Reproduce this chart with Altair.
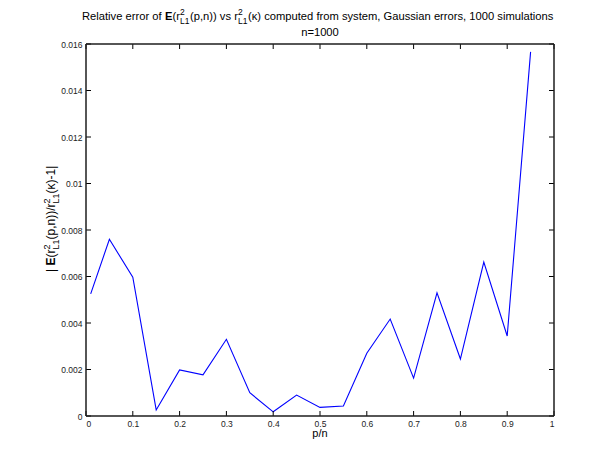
import altair as alt
import pandas as pd

# ---- data ----
p_over_n = [0.01, 0.05, 0.10, 0.15, 0.20, 0.25, 0.30, 0.35, 0.40, 0.45,
            0.50, 0.55, 0.60, 0.65, 0.70, 0.75, 0.80, 0.85, 0.90, 0.95]
rel_err = [0.00525, 0.00760, 0.00597, 0.00026, 0.00198, 0.00177, 0.00330, 0.00100,
           0.00018, 0.00090, 0.00037, 0.00043, 0.00270, 0.00417, 0.00163, 0.00530,
           0.00245, 0.00662, 0.00344, 0.01566]
x_ticks = [0, 0.1, 0.2, 0.3, 0.4, 0.5, 0.6, 0.7, 0.8, 0.9, 1.0]
y_ticks = [0, 0.002, 0.004, 0.006, 0.008, 0.010, 0.012, 0.014, 0.016]

W, H = 468, 372
FONT = "Liberation Sans"
TICK = 5

df = pd.DataFrame({"pn": p_over_n, "err": rel_err})
xt = pd.DataFrame({"pn": x_ticks})
yt = pd.DataFrame({"err": y_ticks})

xs = alt.Scale(domain=[0, 1], nice=False, zero=False)
ys = alt.Scale(domain=[0, 0.016], nice=False, zero=False)
xaxis = alt.Axis(values=x_ticks, format="~g", title=None, ticks=False, tickSize=0,
                 domain=False, grid=False, labelFontSize=8.5, labelPadding=3,
                 labelColor="#222", labelFont=FONT)
yaxis = alt.Axis(values=y_ticks, format="~g", title=None, ticks=False, tickSize=0,
                 domain=False, grid=False, labelFontSize=8.5, labelPadding=4,
                 labelColor="#222", labelFont=FONT)

line = alt.Chart(df).mark_line(color="#0000ff", strokeWidth=1.1).encode(
    x=alt.X("pn:Q", scale=xs, axis=xaxis),
    y=alt.Y("err:Q", scale=ys, axis=yaxis),
)

TS = dict(color="black", strokeWidth=1, strokeOpacity=1)
bottom = alt.Chart(xt).mark_rule(**TS).encode(
    x=alt.X("pn:Q", scale=xs, axis=xaxis), y=alt.value(H), y2=alt.value(H - TICK))
top = alt.Chart(xt).mark_rule(**TS).encode(
    x=alt.X("pn:Q", scale=xs, axis=xaxis), y=alt.value(0), y2=alt.value(TICK))
left = alt.Chart(yt).mark_rule(**TS).encode(
    y=alt.Y("err:Q", scale=ys, axis=yaxis), x=alt.value(0), x2=alt.value(TICK))
right = alt.Chart(yt).mark_rule(**TS).encode(
    y=alt.Y("err:Q", scale=ys, axis=yaxis), x=alt.value(W - TICK), x2=alt.value(W))

one = pd.DataFrame({"a": [0]})

FS = dict(color="rgb(30,30,30)", strokeWidth=1.5, strokeOpacity=1)
frame = [
    alt.Chart(one).mark_rule(**FS).encode(
        x=alt.value(0), x2=alt.value(W), y=alt.value(0)),
    alt.Chart(one).mark_rule(**FS).encode(
        x=alt.value(0), x2=alt.value(W), y=alt.value(H)),
    alt.Chart(one).mark_rule(**FS).encode(
        x=alt.value(0), y=alt.value(0), y2=alt.value(H)),
    alt.Chart(one).mark_rule(**FS).encode(
        x=alt.value(W), y=alt.value(0), y2=alt.value(H)),
]


def txt(s, x, y, size=11.2, weight="normal", angle=0, align="left"):
    return alt.Chart(one).mark_text(
        text=s, font=FONT, fontSize=size, fontWeight=weight, angle=angle,
        align=align, baseline="alphabetic", color="#000").encode(
        x=alt.value(x), y=alt.value(y))


TB = -24  # title baseline
title = [
    txt("Relative error of", -4, TB),
    txt("E", 79, TB, weight="bold"),
    txt("(r", 86.5, TB),
    txt("2", 94, TB - 5, size=8.5),
    txt("L1", 94, TB + 3.5, size=8.5),
    txt("(p,n)) vs r", 104, TB),
    txt("2", 152, TB - 5, size=8.5),
    txt("L1", 152, TB + 3.5, size=8.5),
    txt("(\u03ba) computed from system, Gaussian errors, 1000 simulations", 162, TB),
    txt("n=1000", W / 2, -8, align="center"),
    txt("p/n", W / 2, H + 21, size=11, align="center"),
]

# rotated y label, reading bottom-to-top
LX = -31
Y0 = 228
ylab = [
    txt("| ", LX, Y0, size=12, angle=270),
    txt("E", LX, Y0 - 6.5, size=12, weight="bold", angle=270),
    txt("(r", LX, Y0 - 14.5, size=12, angle=270),
    txt("2", LX - 5.5, Y0 - 22.5, size=9, angle=270),
    txt("L1", LX + 3.5, Y0 - 22.5, size=9, angle=270),
    txt("(p,n))/r", LX, Y0 - 32.5, size=12, angle=270),
    txt("2", LX - 5.5, Y0 - 68.5, size=9, angle=270),
    txt("L1", LX + 3.5, Y0 - 68.5, size=9, angle=270),
    txt("(\u03ba)-1|", LX, Y0 - 78.5, size=12, angle=270),
]

chart = alt.layer(line, bottom, top, left, right, *frame, *title, *ylab).properties(
    width=W, height=H,
    autosize=alt.AutoSizeParams(type="none"),
    padding={"left": 78, "top": 36, "right": 45, "bottom": 41},
    background="white",
).configure_view(stroke=None)

chart.save("out.html", embed_options={"renderer": "svg", "actions": False})
